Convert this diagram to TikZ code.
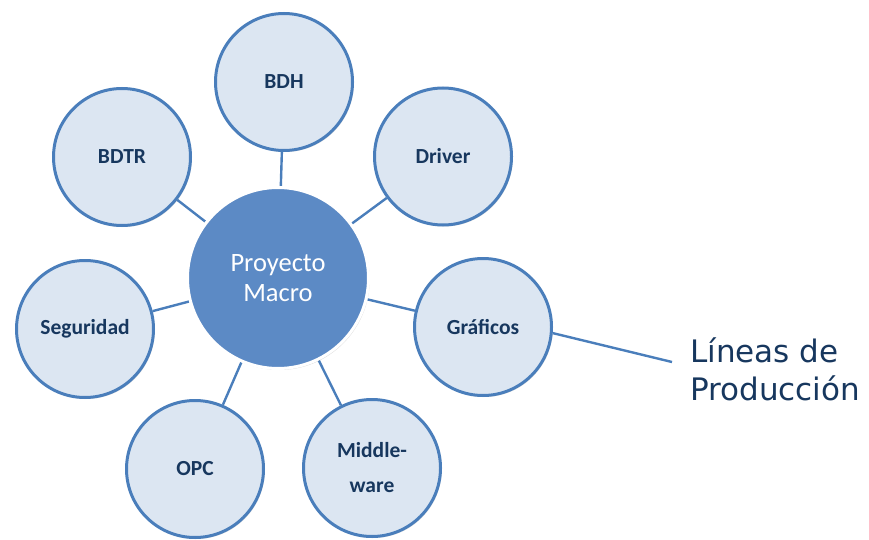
\documentclass[tikz,border=0pt]{standalone}
\usepackage{fontspec}
\setmainfont{Carlito}
\newfontfamily\labelfont{DejaVu Sans}
\usetikzlibrary{shadows,backgrounds}

\definecolor{rimblue}{HTML}{4A7EBB}
\definecolor{paleblue}{HTML}{DCE6F2}
\definecolor{hubblue}{HTML}{5C8AC5}
\definecolor{navytext}{HTML}{17375E}

\tikzset{
  x=1pt, y=1pt,
  satellite/.style={circle, draw=rimblue, line width=3pt, fill=paleblue,
    minimum size=137pt, inner sep=0pt, align=center,
    text=navytext, font=\fontsize{21.5}{35}\selectfont\bfseries,
    drop shadow={shadow xshift=1.2pt, shadow yshift=-1.5pt, opacity=0.25}},
  hub/.style={circle, draw=white, line width=3pt, fill=hubblue,
    minimum size=181pt, inner sep=0pt, align=center,
    text=white, font=\fontsize{26.5}{30}\selectfont,
    drop shadow={shadow xshift=1.2pt, shadow yshift=-1.5pt, opacity=0.3}},
  spoke/.style={draw=rimblue, line width=2.4pt}
}

\begin{document}
\begin{tikzpicture}
\useasboundingbox (0,0) rectangle (869,539);

% central project
\node[hub] (c) at (278,261) {Proyecto\\Macro};

% surrounding components
\node[satellite] (bdh)  at (284,457)   {BDH};
\node[satellite] (drv)  at (443,382.5) {Driver};
\node[satellite] (gra)  at (483,212)   {Gráficos};
\node[satellite] (mid)  at (372,71)    {Middle-\\ware};
\node[satellite] (opc)  at (195,70)    {OPC};
\node[satellite] (seg)  at (85,210)    {Seguridad};
\node[satellite] (bdtr) at (122,382)   {BDTR};

% callout label (base anchor sits on the last line)
\node[anchor=base west, inner sep=0pt, text=navytext, align=left,
      font=\labelfont\fontsize{31}{38}\selectfont] (lp) at (690,139)
      {Líneas de\\Producción};
\coordinate (lpend) at (672,177);

\begin{scope}[on background layer]
  \foreach \n in {bdh,drv,gra,mid,opc,seg,bdtr}
    \draw[spoke] (c) -- (\n);
  \draw[spoke] (gra.-5) -- (lpend);
\end{scope}
\end{tikzpicture}
\end{document}
